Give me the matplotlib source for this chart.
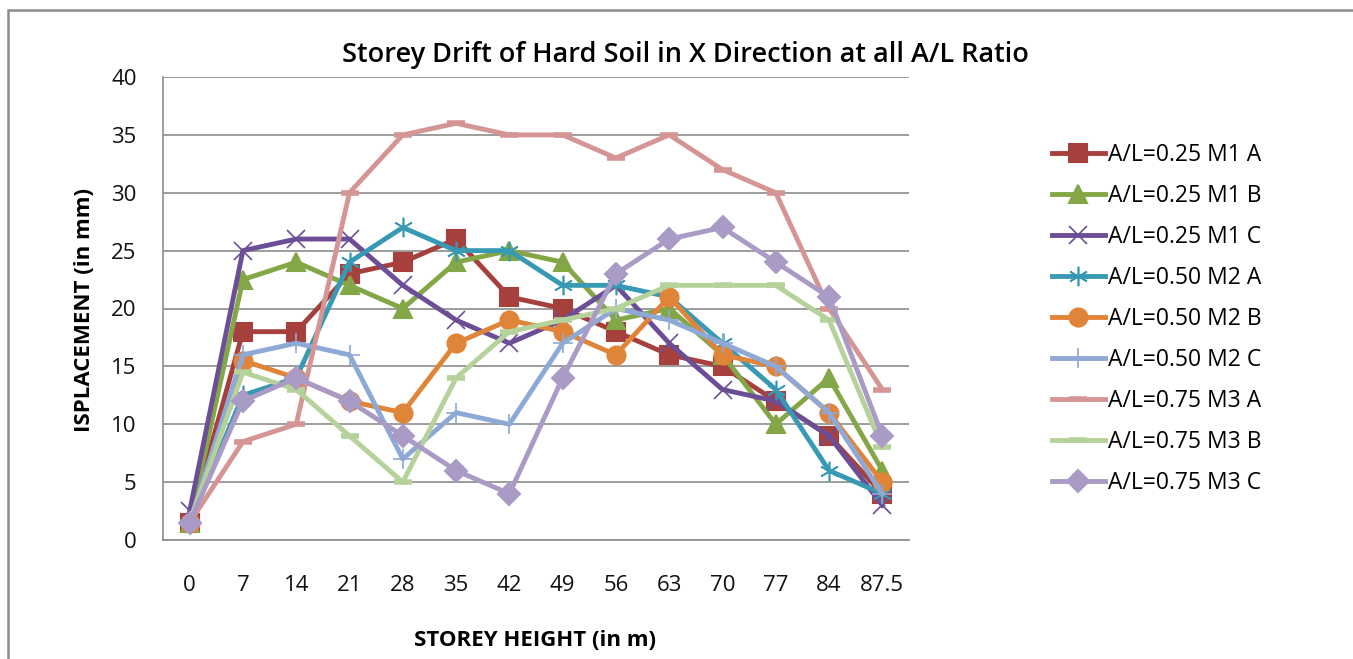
import matplotlib
matplotlib.use("Agg")
import matplotlib.pyplot as plt
from matplotlib.patches import Rectangle

heights = ["0", "7", "14", "21", "28", "35", "42", "49", "56", "63", "70", "77", "84", "87.5"]

m1a = [1.5, 18, 18, 23, 24, 26, 21, 20, 18, 16, 15, 12, 9, 4]
m1b = [1.5, 22.5, 24, 22, 20, 24, 25, 24, 19, 20, 16, 10, 14, 6]
m1c = [2.5, 25, 26, 26, 22, 19, 17, 19, 22, 17, 13, 12, 9, 3]
m2a = [1.5, 12.5, 14, 24, 27, 25, 25, 22, 22, 21, 17, 13, 6, 4]
m2b = [1.5, 15.5, 14, 12, 11, 17, 19, 18, 16, 21, 16, 15, 11, 5]
m2c = [1.5, 16, 17, 16, 7, 11, 10, 17, 20, 19, 17, 15, 11, 4]
m3a = [1.5, 8.5, 10, 30, 35, 36, 35, 35, 33, 35, 32, 30, 20, 13]
m3b = [1.5, 14.5, 13, 9, 5, 14, 18, 19, 20, 22, 22, 22, 19, 8]
m3c = [1.5, 12, 14, 12, 9, 6, 4, 14, 23, 26, 27, 24, 21, 9]

labels = ["A/L=0.25 M1 A", "A/L=0.25 M1 B", "A/L=0.25 M1 C",
          "A/L=0.50 M2 A", "A/L=0.50 M2 B", "A/L=0.50 M2 C",
          "A/L=0.75 M3 A", "A/L=0.75 M3 B", "A/L=0.75 M3 C"]
series = [m1a, m1b, m1c, m2a, m2b, m2c, m3a, m3b, m3c]
colors = ["#A6403D", "#83A646", "#6C4E96", "#3799B3", "#E0843A",
          "#8EA9D6", "#D69595", "#B5D29A", "#A99BC6"]
markers = ["s", "^", "x", (6, 2, 0), "o", "+", "_", "_", "D"]
msizes = [13, 13, 13, 14, 13, 15, 13, 13, 11]

fnt = "Open Sans"
fig = plt.figure(figsize=(13.53, 6.59), dpi=100)
fig.patches.append(Rectangle((8 / 1353, -0.1), 1.1, 0.1 + 1 - 10 / 659, transform=fig.transFigure,
                             fill=False, edgecolor="#8C8C8C", linewidth=1.8))
ax = fig.add_axes([163 / 1353, 1 - 540 / 659, (909 - 163) / 1353, (540 - 77) / 659])

x = list(range(len(heights)))
for ys, lab, c, m, ms in zip(series, labels, colors, markers, msizes):
    mew = 1.5
    if m in ("x", "+") or isinstance(m, tuple):
        mew = 1.2
    if m == "_":
        mew = 4
    ax.plot(x, ys, color=c, linewidth=3.5, marker=m, markersize=ms,
            markeredgewidth=mew, markerfacecolor=c, markeredgecolor=c, label=lab)

ax.set_xlim(-0.5, len(heights) - 0.5)
ax.set_ylim(0, 40)
ax.set_yticks(range(0, 41, 5))
ax.set_xticks(x)
ax.set_xticklabels(heights)
ax.grid(axis="y", color="#8C8C8C", linewidth=1.2)
ax.set_axisbelow(True)
for s in ["top", "right"]:
    ax.spines[s].set_visible(False)
for s in ["left", "bottom"]:
    ax.spines[s].set_color("#8C8C8C")
    ax.spines[s].set_linewidth(1.2)
ax.tick_params(axis="both", labelsize=16, length=0, labelcolor="#111111")
ax.tick_params(axis="y", pad=19)
ax.tick_params(axis="x", pad=25)
for t in ax.get_xticklabels() + ax.get_yticklabels():
    t.set_fontfamily(fnt)

fig.text(685 / 1353, 1 - 55 / 659, "Storey Drift of Hard Soil in X Direction at all A/L Ratio",
         ha="center", va="center", fontsize=19.5, fontfamily=fnt, fontweight="semibold")
fig.text(84 / 1353, 1 - 310 / 659, "ISPLACEMENT (in mm)", rotation=90,
         ha="center", va="center", fontsize=16, fontfamily=fnt, fontweight="bold")
fig.text(535 / 1353, 1 - 640 / 659, "STOREY HEIGHT (in m)",
         ha="center", va="center", fontsize=16, fontfamily=fnt, fontweight="bold")

leg = ax.legend(loc="upper left", bbox_to_anchor=(1052 / 1353, 1 - 143 / 659),
                bbox_transform=fig.transFigure, frameon=False, prop={"family": fnt, "size": 16.5},
                handlelength=2.3, handletextpad=0.15, labelspacing=0.74, borderaxespad=0,
                borderpad=0)

fig.savefig("out.png", dpi=100)
